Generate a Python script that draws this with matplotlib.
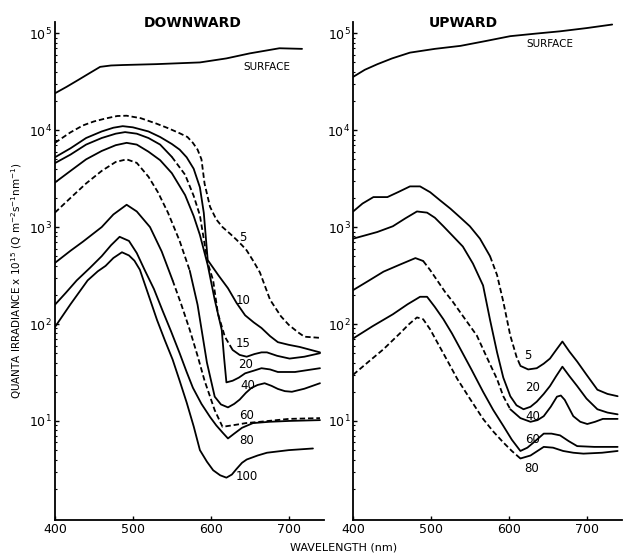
import numpy as np
import matplotlib
matplotlib.use('Agg')
import matplotlib.pyplot as plt

# ---- downward irradiance (left panel) ----
down_surface_wl = [400, 415, 430, 445, 458, 472, 487, 530, 586, 620, 650, 688, 717]
down_surface = [24000, 28000, 33000, 39000, 45000, 46500, 47000, 48000, 50000, 55000, 62000, 70000, 69000]

down_5_wl = [400, 420, 436, 450, 465, 480, 492, 510, 530, 545, 560, 570, 577, 583, 588, 592,
             599, 607, 615, 625, 633, 640, 646, 655, 663, 676, 690, 700, 712, 720, 740]
down_5 = [7400, 9500, 11200, 12300, 13200, 14000, 14100, 13300, 11700, 10500, 9300, 8500, 7400,
          6300, 5000, 2800, 1620, 1200, 1000, 850, 740, 650, 575, 440, 340, 178, 120, 98, 82, 74, 72]

down_10_wl = [400, 420, 440, 460, 475, 487, 500, 520, 535, 550, 560, 569, 578, 586, 591, 596,
              603, 610, 622, 633, 644, 655, 665, 676, 686, 700, 714, 740]
down_10 = [5250, 6500, 8300, 9700, 10600, 11000, 10700, 9700, 8500, 7200, 6300, 5250, 4000, 2570,
           1400, 457, 380, 316, 234, 165, 123, 104, 91, 75, 65, 61, 58, 51]

down_15_wl = [400, 420, 440, 460, 478, 490, 505, 520, 535, 550, 567, 578, 586, 596, 603, 609,
              618, 628, 637, 646, 656, 665, 672, 685, 701, 720, 740]
down_15 = [4570, 5600, 7100, 8300, 9200, 9550, 9200, 8300, 7100, 5300, 3470, 2100, 1320, 427,
           282, 129, 74, 54, 48, 46, 49, 51, 51, 47, 44, 46, 50]

down_20_wl = [400, 420, 440, 460, 478, 492, 505, 520, 535, 550, 567, 578, 586, 596, 605, 614,
              617, 620, 628, 636, 644, 655, 665, 676, 686, 708, 740]
down_20 = [2880, 3800, 5000, 6100, 7000, 7400, 7100, 6000, 4900, 3600, 2140, 1300, 830, 407,
           178, 87, 45, 25, 26, 28, 31, 33, 35, 34, 32, 32, 35]

down_40_wl = [400, 420, 440, 460, 478, 492, 505, 520, 532, 545, 560, 573, 583, 595, 605, 613,
              622, 630, 637, 645, 652, 660, 669, 678, 686, 695, 704, 720, 740]
down_40 = [1410, 2000, 2820, 3800, 4700, 5000, 4600, 3310, 2300, 1410, 720, 355, 158, 40, 17.8,
           14.8, 13.8, 15, 16.6, 19.5, 21.9, 23.5, 24.5, 23, 21.4, 20.3, 20, 21.5, 24.5]

down_60_wl = [400, 420, 436, 460, 475, 492, 505, 522, 537, 551, 562, 573, 583, 592, 605, 615,
              631, 645, 663, 700, 740]
down_60 = [427, 570, 708, 1000, 1350, 1700, 1450, 1000, 560, 282, 160, 87, 47, 26, 12.9, 8.7,
           9.1, 9.5, 9.8, 10.5, 10.7]

down_80_wl = [400, 414, 428, 445, 460, 472, 483, 495, 505, 515, 527, 538, 549, 560, 569, 577,
              588, 599, 607, 615, 622, 630, 640, 654, 675, 700, 740]
down_80 = [158, 210, 282, 380, 501, 650, 794, 720, 540, 363, 230, 138, 84, 50, 32, 22, 15, 11,
           9, 7.6, 6.6, 7.4, 8.5, 9.5, 9.8, 10, 10.2]

down_100_wl = [400, 420, 442, 455, 465, 475, 486, 495, 502, 509, 520, 531, 541, 551, 560, 569,
               578, 586, 595, 603, 612, 620, 627, 633, 640, 646, 660, 672, 700, 731]
down_100 = [93, 160, 282, 350, 398, 480, 550, 510, 450, 363, 200, 110, 68, 43, 26, 15.5, 8.8,
            5.0, 3.8, 3.1, 2.75, 2.6, 2.8, 3.2, 3.7, 4.0, 4.4, 4.7, 5.0, 5.2]

# ---- upward irradiance (right panel) ----
up_surface_wl = [400, 415, 431, 450, 473, 505, 538, 570, 602, 634, 666, 700, 733]
up_surface = [35500, 42000, 47900, 55000, 63100, 69000, 74100, 83000, 93300, 99000, 104700,
              113000, 123000]

up_5_wl = [400, 412, 426, 444, 458, 473, 486, 499, 512, 525, 538, 550, 563, 576, 585, 593, 602,
           610, 615, 625, 636, 645, 653, 661, 669, 678, 688, 700, 714, 727, 740]
up_5 = [1450, 1750, 2040, 2040, 2300, 2630, 2630, 2290, 1880, 1550, 1250, 1020, 760, 500, 320,
        170, 76, 46, 37, 34, 35, 39, 44, 54, 66, 52, 41, 30, 21, 19, 18]

up_20_wl = [400, 415, 431, 451, 467, 482, 495, 505, 516, 528, 541, 554, 567, 576, 585, 593, 602,
            610, 619, 628, 636, 645, 653, 661, 669, 678, 688, 700, 714, 727, 740]
up_20 = [760, 820, 890, 1020, 1230, 1450, 1410, 1250, 1020, 810, 630, 420, 250, 110, 51, 28, 18,
         14.5, 13.2, 14, 15.8, 19, 22.9, 29, 36.3, 29, 22.9, 17, 13.2, 12.2, 11.7]

up_40_wl = [400, 420, 439, 460, 480, 490, 499, 508, 518, 528, 543, 559, 572, 585, 593, 602, 615,
            628, 637, 645, 654, 662, 667, 672, 683, 692, 701, 711, 721, 740]
up_40 = [224, 280, 347, 410, 479, 447, 360, 282, 215, 170, 115, 76, 45, 27, 18, 13.2, 10.7, 9.8,
         10.2, 11.2, 14, 17.8, 18.3, 16.5, 11.2, 9.8, 9.3, 9.8, 10.5, 10.5]

up_60_wl = [400, 425, 451, 470, 486, 495, 505, 516, 527, 538, 552, 567, 580, 593, 604, 615, 624,
            632, 645, 655, 666, 677, 688, 710, 740]
up_60 = [71, 95, 126, 160, 191, 191, 150, 112, 80, 55, 34, 20, 13, 8.9, 6.4, 4.9, 5.3, 6.0, 7.4,
         7.4, 7.1, 6.2, 5.5, 5.4, 5.4]

up_80_wl = [400, 420, 439, 460, 472, 482, 490, 499, 508, 521, 534, 550, 567, 580, 593, 604, 615,
            628, 645, 657, 670, 683, 696, 720, 740]
up_80 = [30, 41, 55, 80, 100, 117, 112, 88, 65, 42, 27, 17, 10.5, 7.8, 6.0, 4.9, 4.1, 4.4, 5.4,
         5.3, 4.9, 4.7, 4.6, 4.7, 4.9]

depth_labels_down = ['5', '10', '15', '20', '40', '60', '80', '100']
depth_labels_up = ['5', '20', '40', '60', '80']


def draw(ax, wl, val, dash=None):
    wl = np.array(wl)
    val = np.array(val)
    kw = dict(color='black', lw=1.3, solid_capstyle='round', solid_joinstyle='round')
    if dash is None:
        ax.plot(wl, val, **kw)
        return
    a, b = dash
    i0 = int(np.searchsorted(wl, a))
    i1 = min(int(np.searchsorted(wl, b)), len(wl) - 1)
    ax.plot(wl[:i0 + 1], val[:i0 + 1], **kw)
    ax.plot(wl[i0:i1 + 1], val[i0:i1 + 1], dashes=(3, 1.6), **kw)
    ax.plot(wl[i1:], val[i1:], **kw)


def style_axes(ax):
    ax.set_yscale('log')
    ax.set_xlim(400, 745)
    ax.set_ylim(0.95, 1.3e5)
    ax.set_yticks([1e1, 1e2, 1e3, 1e4, 1e5])
    for s in ['top', 'right']:
        ax.spines[s].set_visible(False)
    for s in ['left', 'bottom']:
        ax.spines[s].set_linewidth(1.3)
    ax.set_xticks([400, 500, 600, 700])
    ax.tick_params(which='major', direction='in', length=3, width=1,
                   labelsize=9, pad=2)
    ax.tick_params(which='minor', direction='in', length=1.5, width=0.8)


fig = plt.figure(figsize=(6.24, 5.55), dpi=100)
ax1 = fig.add_axes([0.088, 0.063, 0.431, 0.897])
ax2 = fig.add_axes([0.566, 0.063, 0.430, 0.897])

# left panel
draw(ax1, down_surface_wl, down_surface)
draw(ax1, down_5_wl, down_5, dash=(400, 740))
draw(ax1, down_10_wl, down_10)
draw(ax1, down_15_wl, down_15, dash=(540, 628))
draw(ax1, down_20_wl, down_20)
draw(ax1, down_40_wl, down_40, dash=(400, 573))
draw(ax1, down_60_wl, down_60, dash=(551, 740))
draw(ax1, down_80_wl, down_80)
draw(ax1, down_100_wl, down_100)

# right panel
draw(ax2, up_surface_wl, up_surface)
draw(ax2, up_5_wl, up_5, dash=(576, 615))
draw(ax2, up_20_wl, up_20)
draw(ax2, up_40_wl, up_40, dash=(490, 602))
draw(ax2, up_60_wl, up_60)
draw(ax2, up_80_wl, up_80, dash=(400, 615))

style_axes(ax1)
style_axes(ax2)

lab = dict(fontsize=8.5, ha='center', va='center')
ax1.text(672, 45000, 'SURFACE', fontsize=7.5, ha='center', va='center')
down_label_pos = [(641, 790), (642, 173), (641, 63), (644, 38), (647, 23),
                  (646, 11.5), (646, 6.3), (646, 2.65)]
for t, (x, y) in zip(depth_labels_down, down_label_pos):
    ax1.text(x, y, t, **lab)

ax2.text(653, 77000, 'SURFACE', fontsize=7.5, ha='center', va='center')
up_label_pos = [(625, 47), (630, 22), (631, 11.2), (630, 6.5), (630, 3.2)]
for t, (x, y) in zip(depth_labels_up, up_label_pos):
    ax2.text(x, y, t, **lab)

fig.text(0.308, 0.958, 'DOWNWARD', fontsize=10, fontweight='bold', ha='center', va='center')
fig.text(0.742, 0.958, 'UPWARD', fontsize=10, fontweight='bold', ha='center', va='center')
fig.text(0.026, 0.495,
         r'QUANTA IRRADIANCE x 10$^{15}$ (Q m$^{-2}$s$^{-1}$nm$^{-1}$)',
         rotation=90, fontsize=7.5, ha='center', va='center')
fig.text(0.55, 0.013, 'WAVELENGTH (nm)', fontsize=8, ha='center', va='center')

fig.savefig('out.png', dpi=100, facecolor='white')
